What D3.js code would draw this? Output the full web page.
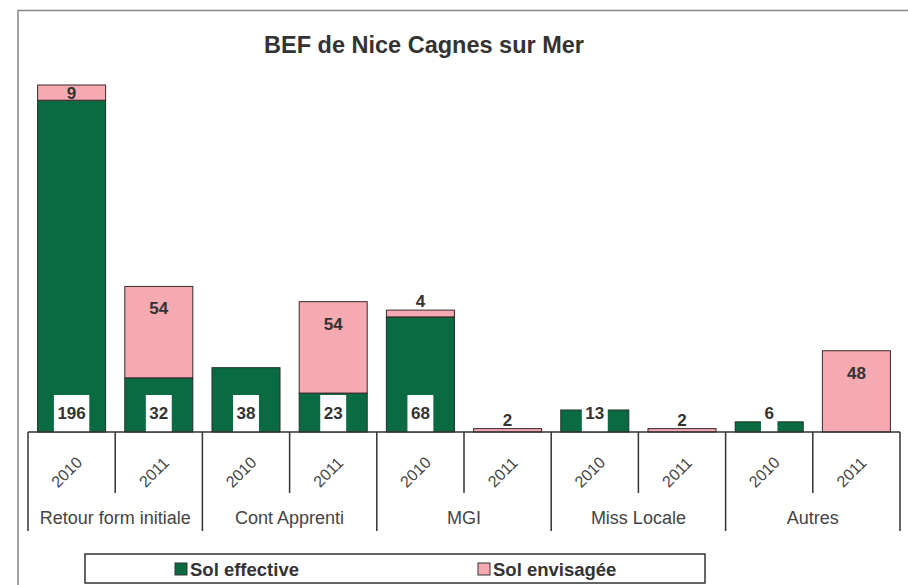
<!DOCTYPE html>
<html>
<head>
<meta charset="utf-8">
<title>BEF de Nice Cagnes sur Mer</title>
<script src="https://d3js.org/d3.v7.min.js"></script>
<style>
  body { margin: 0; background: #fff; }
  text { font-family: Arial, "Liberation Sans", sans-serif; }
</style>
</head>
<body>
<div id="chart"></div>
<script>
// data
const groups = ["Retour form initiale", "Cont Apprenti", "MGI", "Miss Locale", "Autres"];
const years = ["2010", "2011"];
const effective = [196, 32, 38, 23, 68, 0, 13, 0, 6, 0];
const envisagee = [9, 54, 0, 54, 4, 2, 0, 2, 0, 48];
const seriesNames = ["Sol effective", "Sol envisagée"];

const green = "#0a6b42", pink = "#f5a9b0", ink = "#333";

const W = 908, H = 585;
const svg = d3.select("#chart").append("svg").attr("width", W).attr("height", H);

// outer frame
svg.append("rect").attr("x", 18).attr("y", 10.5).attr("width", 900).attr("height", 600)
  .attr("fill", "none").attr("stroke", "#888").attr("stroke-width", 1.5);

svg.append("text").attr("x", 424).attr("y", 53).attr("text-anchor", "middle")
  .attr("font-size", 23.5).attr("font-weight", "bold").attr("fill", "#333")
  .text("BEF de Nice Cagnes sur Mer");

// one slot per group/year pair
const slots = [];
groups.forEach(g => years.forEach(yr => slots.push({ g, yr })));
slots.forEach((s, i) => { s.eff = effective[i]; s.env = envisagee[i]; s.i = i; });

const x = d3.scaleBand().domain(d3.range(slots.length)).range([28, 900])
  .paddingInner(0.22).paddingOuter(0.11);
const y = d3.scaleLinear().domain([0, 205]).range([432, 85]);
const step = x.step();
const x0 = 28;

// stacked bars
const bars = svg.append("g");
bars.selectAll("rect.eff").data(slots.filter(d => d.eff > 0)).join("rect")
  .attr("x", d => x(d.i)).attr("width", x.bandwidth())
  .attr("y", d => y(d.eff)).attr("height", d => y(0) - y(d.eff))
  .attr("fill", green).attr("stroke", "#1f2f27").attr("stroke-width", 1);
bars.selectAll("rect.env").data(slots.filter(d => d.env > 0)).join("rect")
  .attr("x", d => x(d.i)).attr("width", x.bandwidth())
  .attr("y", d => y(d.eff + d.env)).attr("height", d => y(d.eff) - y(d.eff + d.env))
  .attr("fill", pink).attr("stroke", "#3a2a2a").attr("stroke-width", 1);

// labels of effective values in white boxes
const lab = svg.append("g").attr("font-size", 17).attr("font-weight", "bold").attr("fill", ink)
  .attr("text-anchor", "middle");
slots.filter(d => d.eff > 0).forEach(d => {
  const cx = x(d.i) + x.bandwidth() / 2;
  const t = lab.append("text").attr("x", cx).attr("y", 419).text(d.eff);
  const w = t.node().getComputedTextLength() + 7;
  lab.insert("rect", "text").attr("x", cx - w / 2).attr("y", 395).attr("width", w)
    .attr("height", y(0) - 395).attr("fill", "#fff");
});

// labels of envisaged values
slots.filter(d => d.env > 0).forEach(d => {
  const cx = x(d.i) + x.bandwidth() / 2;
  const top = y(d.eff + d.env), bot = y(d.eff), h = bot - top;
  let ty;
  if (h < 12) ty = top - 3;
  else if (h < 30) ty = (top + bot) / 2 + 6;
  else ty = top + 28;
  lab.append("text").attr("x", cx).attr("y", ty).text(d.env);
});

// category axis
const ax = svg.append("g").attr("stroke", ink).attr("stroke-width", 1.5);
ax.append("line").attr("x1", x0).attr("x2", 900).attr("y1", y(0)).attr("y2", y(0));
d3.range(slots.length + 1).forEach(i => {
  const xx = x0 + i * step;
  ax.append("line").attr("x1", xx).attr("x2", xx).attr("y1", y(0))
    .attr("y2", i % 2 === 0 ? 531 : 493);
});

svg.append("g").selectAll("text").data(slots).join("text")
  .attr("transform", d => `translate(${x(d.i) + x.bandwidth() / 2 - 1},${476}) rotate(-45)`)
  .attr("text-anchor", "middle").attr("font-size", 16).attr("fill", "#444")
  .text(d => d.yr);

svg.append("g").selectAll("text").data(groups).join("text")
  .attr("x", (d, i) => x0 + (i * 2 + 1) * step).attr("y", 524)
  .attr("text-anchor", "middle").attr("font-size", 18).attr("fill", "#444")
  .text(d => d);

// legend
const lg = svg.append("g");
lg.append("rect").attr("x", 85).attr("y", 554).attr("width", 620).attr("height", 29)
  .attr("fill", "#fff").attr("stroke", ink).attr("stroke-width", 1.5);
const items = [{ n: seriesNames[0], c: green, x: 175 }, { n: seriesNames[1], c: pink, x: 478 }];
items.forEach(it => {
  lg.append("rect").attr("x", it.x).attr("y", 563).attr("width", 12).attr("height", 12)
    .attr("fill", it.c).attr("stroke", "#333").attr("stroke-width", 1);
  lg.append("text").attr("x", it.x + 15).attr("y", 576).attr("font-size", 18.5)
    .attr("font-weight", "bold").attr("fill", "#333").text(it.n);
});
</script>
</body>
</html>
